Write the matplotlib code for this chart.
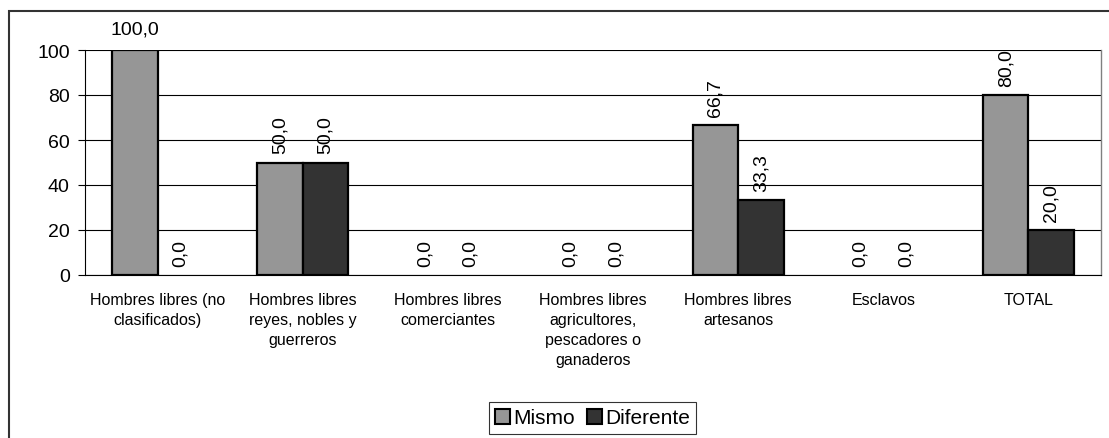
import numpy as np
import matplotlib.pyplot as plt
from matplotlib.patches import Rectangle, Patch

plt.rcParams['font.family'] = ['Liberation Sans', 'DejaVu Sans']

categorias = ["Hombres libres (no\nclasificados)",
              "Hombres libres\nreyes, nobles y\nguerreros",
              "Hombres libres\ncomerciantes",
              "Hombres libres\nagricultores,\npescadores o\nganaderos",
              "Hombres libres\nartesanos",
              "Esclavos",
              "TOTAL"]
mismo = [100.0, 50.0, 0.0, 0.0, 66.7, 0.0, 80.0]
diferente = [0.0, 50.0, 0.0, 0.0, 33.3, 0.0, 20.0]
yticks = [0, 20, 40, 60, 80, 100]

gris = '#969696'
oscuro = '#333333'

fig = plt.figure(figsize=(11.09, 4.39), dpi=100)
ax = fig.add_axes([85 / 1109, 1 - 276 / 439, 1016 / 1109, 225 / 439])

# marco exterior del grafico
fig.patches.append(Rectangle((8.5 / 1109, -0.1), 1.2, 1 - 11.5 / 439 + 0.1,
                             transform=fig.transFigure, fill=False,
                             edgecolor='#333333', linewidth=1.5))

x = np.arange(len(categorias))
ancho = 0.314
b1 = ax.bar(x - ancho / 2, mismo, ancho, color=gris, edgecolor='black',
            linewidth=1.6, zorder=3)
b2 = ax.bar(x + ancho / 2, diferente, ancho, color=oscuro, edgecolor='black',
            linewidth=1.6, zorder=3)

def etiqueta(v):
    return f"{v:.1f}".replace('.', ',')

for barras, vals in ((b1, mismo), (b2, diferente)):
    for r, v in zip(barras, vals):
        if v == 0:
            r.set_visible(False)
        cx = r.get_x() + r.get_width() / 2
        if v >= 100:
            ax.annotate(etiqueta(v), (cx, v), xytext=(0, 9), textcoords='offset points',
                        ha='center', va='bottom', fontsize=14, annotation_clip=False)
        else:
            ax.annotate(etiqueta(v), (cx, v), xytext=(0, 6.5), textcoords='offset points',
                        ha='center', va='bottom', rotation=90, fontsize=14,
                        annotation_clip=False)

ax.set_xlim(-0.5, len(categorias) - 0.5)
ax.set_ylim(0, 100)
ax.set_yticks(yticks)
ax.tick_params(axis='y', labelsize=14, length=5, width=0.8, direction='out', pad=6)
ax.set_xticks(x)
ax.set_xticklabels(categorias, fontsize=11.5, linespacing=1.42)
ax.tick_params(axis='x', length=0, pad=12.5)
ax.yaxis.grid(True, color='black', linewidth=0.8, zorder=0)
ax.set_axisbelow(True)

ax.spines['top'].set_visible(False)
ax.spines['right'].set_color('#808080')
ax.spines['right'].set_linewidth(1.0)
ax.spines['left'].set_linewidth(0.8)
ax.spines['bottom'].set_linewidth(0.8)

handles = [Patch(facecolor=gris, edgecolor='black', linewidth=1.5, label='Mismo'),
           Patch(facecolor=oscuro, edgecolor='black', linewidth=1.5, label='Diferente')]
leg = fig.legend(handles=handles, loc='center', bbox_to_anchor=(592.5 / 1109, 1 - 419 / 439),
                 ncol=2, fontsize=15, frameon=True, fancybox=False, shadow=False,
                 handlelength=0.75, handleheight=0.75, handletextpad=0.15,
                 columnspacing=0.55, borderpad=0.3, borderaxespad=0)
leg.get_frame().set_edgecolor('black')
leg.get_frame().set_linewidth(0.8)

fig.savefig('out.png', dpi=100)
